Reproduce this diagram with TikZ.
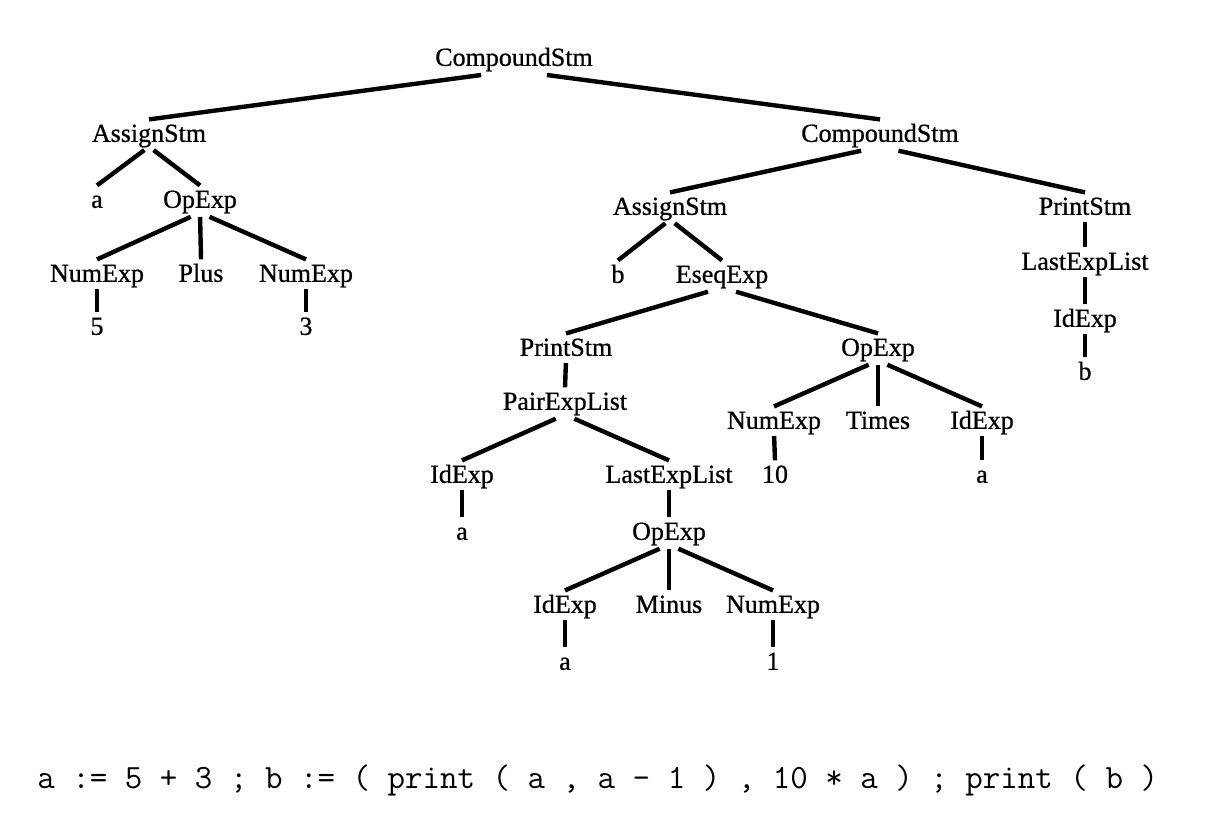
\documentclass[tikz,border=0pt]{standalone}
\usepackage{fontspec}
\setmainfont{Liberation Serif}
\newfontfamily\treefont[FakeBold=0.8]{Liberation Serif}
\usepackage{tikz}
\usetikzlibrary{calc}

\begin{document}
\begin{tikzpicture}[
    x=0.5pt, y=-0.5pt,
    tnode/.style={inner xsep=1pt, inner ysep=0pt, text height=0.7em, text depth=0.22em,
                  font=\treefont\fontsize{13pt}{15pt}\selectfont},
    branch/.style={line width=2.2pt},
    codetext/.style={anchor=base west, inner sep=0pt, font=\ttfamily\fontsize{17pt}{19pt}\selectfont}
]
\useasboundingbox (0,0) rectangle (1219,816);
% level 0 and 1
\node[tnode] (root) at (514,61) {CompoundStm};
\node[tnode] (asgA) at (149,137) {AssignStm};
\node[tnode] (cmpB) at (880,137) {CompoundStm};
% left statement
\node[tnode] (aA) at (97,203) {a};
\node[tnode] (opA) at (200,203) {OpExp};
\node[tnode] (numA) at (97,277) {NumExp};
\node[tnode] (plus) at (201,277) {Plus};
\node[tnode] (numB) at (306,277) {NumExp};
\node[tnode] (five) at (97,330) {5};
\node[tnode] (three) at (306,330) {3};
% right statement
\node[tnode] (asgB) at (670,210) {AssignStm};
\node[tnode] (prB) at (1085,210) {PrintStm};
\node[tnode] (bA) at (618,278) {b};
\node[tnode] (eseq) at (722,278) {EseqExp};
\node[tnode] (lastB) at (1085,265) {LastExpList};
\node[tnode] (idB) at (1085,322) {IdExp};
\node[tnode] (bB) at (1085,375) {b};
\node[tnode] (prA) at (566,351) {PrintStm};
\node[tnode] (opB) at (878,351) {OpExp};
\node[tnode] (pair) at (565,405) {PairExpList};
\node[tnode] (numC) at (774,424) {NumExp};
\node[tnode] (times) at (878,424) {Times};
\node[tnode] (idC) at (982,424) {IdExp};
\node[tnode] (ten) at (775,478) {10};
\node[tnode] (aC) at (982,478) {a};
\node[tnode] (idA) at (462,478) {IdExp};
\node[tnode] (lastA) at (669,478) {LastExpList};
\node[tnode] (aB) at (462,535) {a};
\node[tnode] (opC) at (669,535) {OpExp};
\node[tnode] (idD) at (565,608) {IdExp};
\node[tnode] (minus) at (669,608) {Minus};
\node[tnode] (numD) at (773,608) {NumExp};
\node[tnode] (aD) at (565,665) {a};
\node[tnode] (one) at (773,665) {1};
% branches
\foreach \p/\c in {root/asgA, root/cmpB, asgA/aA, asgA/opA, opA/numA, opA/plus, opA/numB,
    numA/five, numB/three, cmpB/asgB, cmpB/prB, prB/lastB, lastB/idB, idB/bB,
    asgB/bA, asgB/eseq, eseq/prA, eseq/opB, prA/pair, pair/idA, pair/lastA,
    idA/aB, lastA/opC, opC/idD, opC/minus, opC/numD, idD/aD, numD/one,
    opB/numC, opB/times, opB/idC, numC/ten, idC/aC}
    \draw[branch] ($(\p.south)!.09!([yshift=4pt]\c.north)$) -- ([yshift=4pt]\c.north);
% source program
\node[codetext] (prog) at (37,788) {a := 5 + 3 ; b := ( print ( a , a - 1 ) , 10 * a ) ; print ( b )};
\end{tikzpicture}
\end{document}
